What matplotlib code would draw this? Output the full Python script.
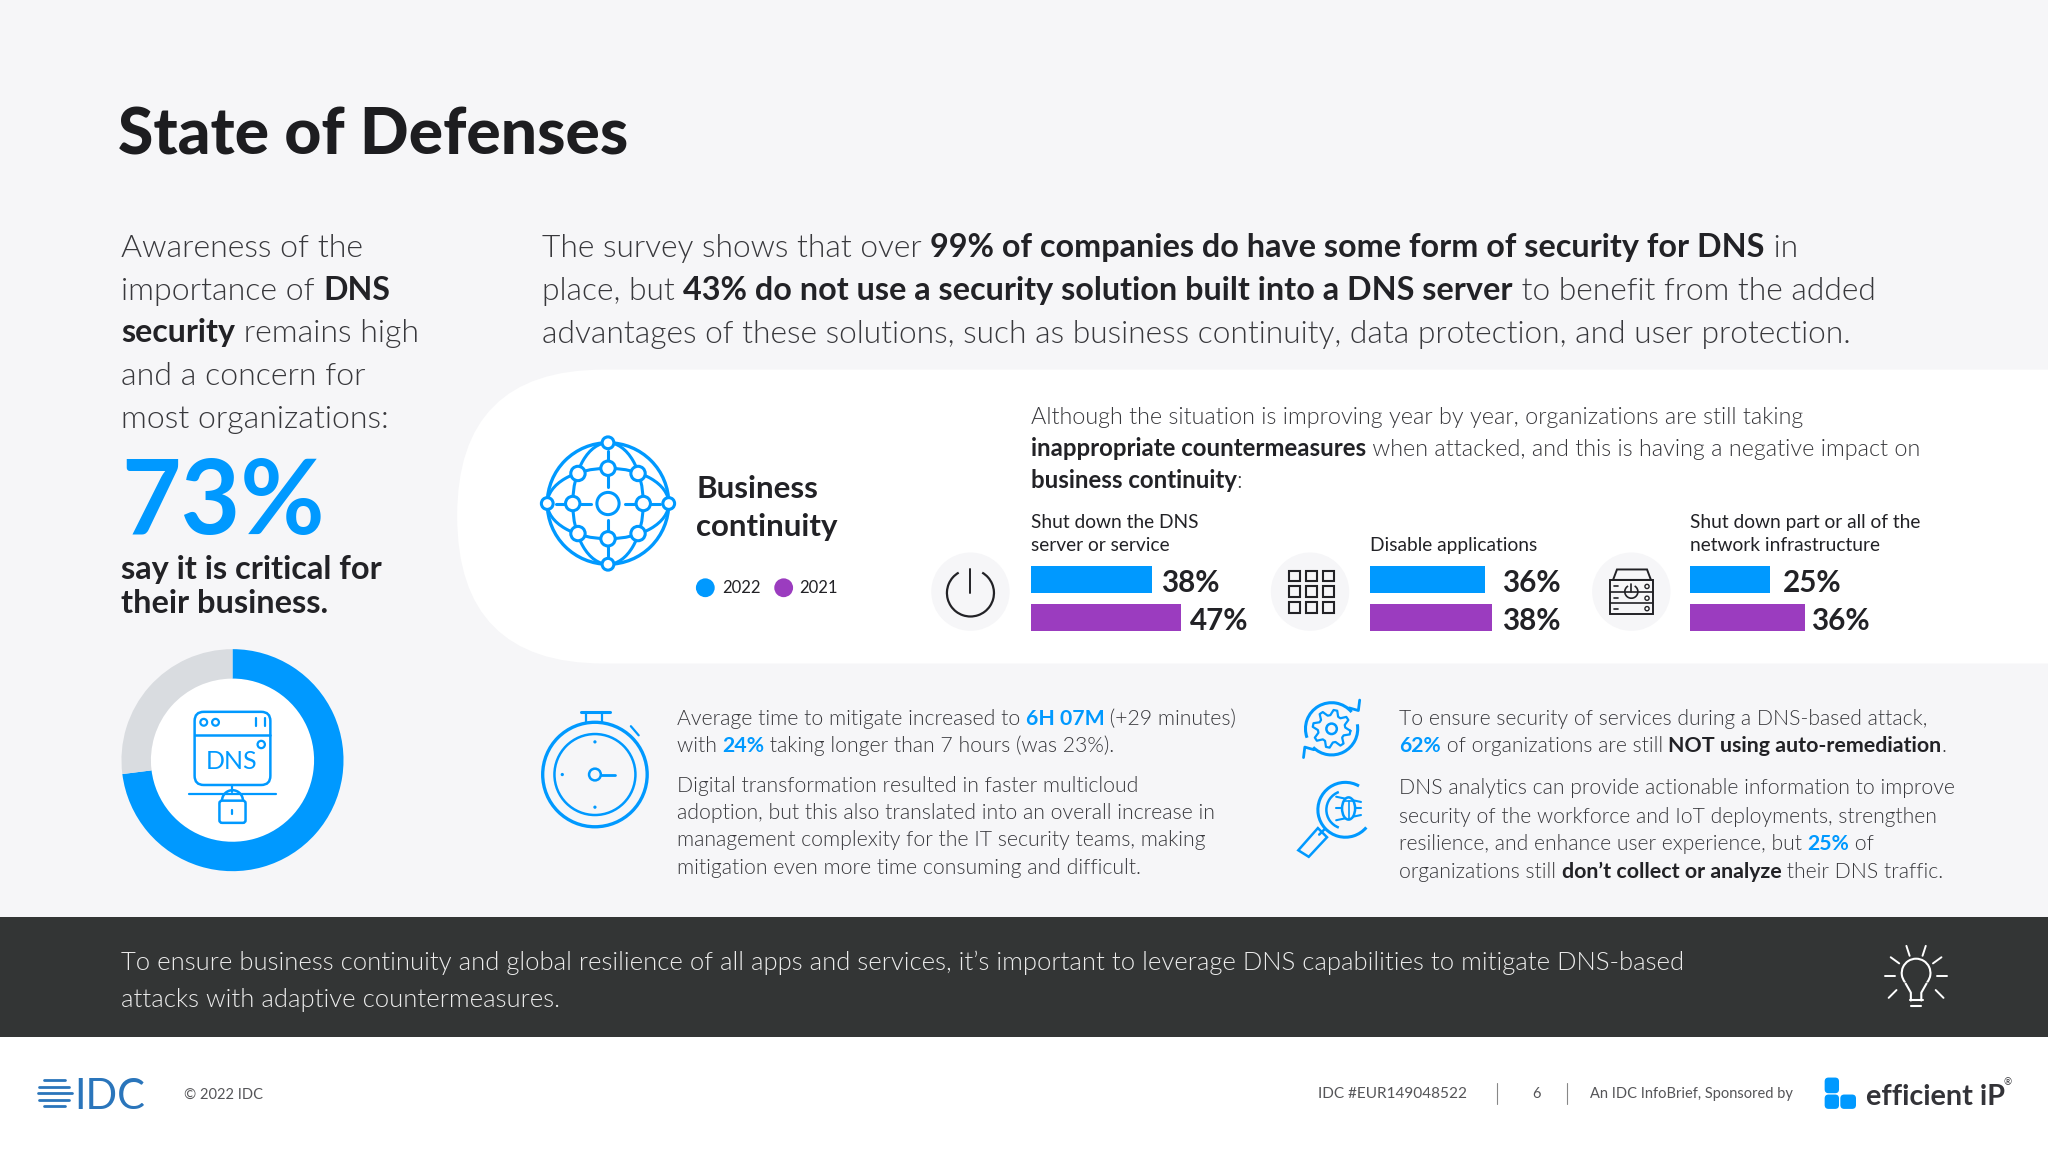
import os
import numpy as np
import matplotlib
matplotlib.use("Agg")
import matplotlib.pyplot as plt
import matplotlib.font_manager as fm
from matplotlib.patches import Circle, Rectangle, FancyBboxPatch, PathPatch, Arc, Polygon, Ellipse
from matplotlib.path import Path

# chart values
donut_share = [73, 27]
groups = ["Shut down the DNS\nserver or service", "Disable applications", "Shut down part or all of the\nnetwork infrastructure"]
values_2022 = [38, 36, 25]
values_2021 = [47, 38, 36]
years = ["2022", "2021"]

BLUE = "#0099ff"
PURPLE = "#9b3cbf"
GREY = "#d9dce0"
BG = "#f6f6f8"
DARK = "#333535"
INK = "#222226"
TEXT = "#38383c"
W, H = 1568.0, 882.0


def pick_font(filename, weight):
    # the weight matching picks odd Lato cuts, so go for the file where we can
    for f in fm.fontManager.ttflist:
        if os.path.basename(f.fname) == filename:
            return fm.FontProperties(fname=f.fname)
    return fm.FontProperties(family="Lato", weight=weight)


FONTS = {
    "light": pick_font("Lato-Light.ttf", 300),
    "normal": pick_font("Lato-Regular.ttf", 400),
    "bold": pick_font("Lato-Bold.ttf", 700),
    "heavy": pick_font("Lato-Heavy.ttf", 800),
}

fig = plt.figure(figsize=(20.48, 11.52), dpi=100, facecolor=BG)
ax = fig.add_axes([0, 0, 1, 1])
ax.set_xlim(0, W)
ax.set_ylim(H, 0)
ax.axis("off")
renderer = fig.canvas.get_renderer()


def text_width(s, size, weight):
    # measure with a guard char so trailing spaces count
    t1 = ax.text(0, 0, s + "|", fontproperties=FONTS[weight], fontsize=size)
    t2 = ax.text(0, 0, "|", fontproperties=FONTS[weight], fontsize=size)
    w = t1.get_window_extent(renderer).width - t2.get_window_extent(renderer).width
    t1.remove()
    t2.remove()
    return w * W / 2048.0


def rich(x, y, runs, size, color=TEXT, weight="light", bold_scale=1.0, zorder=5):
    # runs: plain string, or list of (string, style) with style b = bold, h = blue bold
    if isinstance(runs, str):
        runs = [(runs, "")]
    for s, style in runs:
        c, w, sz = color, weight, size
        if style == "b":
            c, w, sz = INK, "bold", size * bold_scale
        elif style == "h":
            c, w = BLUE, "bold"
        ax.text(x, y, s, fontproperties=FONTS[w], fontsize=sz, color=c, va="baseline", ha="left", zorder=zorder)
        x += text_width(s, sz, w)


def inset(x0, y0, x1, y1):
    return fig.add_axes([x0 / W, 1 - y1 / H, (x1 - x0) / W, (y1 - y0) / H])


def circ(x, y, r, lw=2.2, ec=BLUE, fc="none", z=4):
    ax.add_patch(Circle((x, y), r, ec=ec, fc=fc, lw=lw, zorder=z))


def line(xs, ys, lw=2.2, c=BLUE, z=4):
    ax.plot(xs, ys, color=c, lw=lw, solid_capstyle="round", solid_joinstyle="round", zorder=z)


def arc(x, y, r, a0, a1, lw=2.2, c=BLUE, z=4):
    # y is inverted, so angles run clockwise on screen
    ax.add_patch(Arc((x, y), 2 * r, 2 * r, theta1=a0, theta2=a1, ec=c, lw=lw, zorder=z))


# ---- background bands
r = 112
band = Path(
    [(W + 5, 283), (350 + r, 283), (350, 283), (350, 395), (350, 508), (350 + r, 508), (W + 5, 508), (W + 5, 283)],
    [Path.MOVETO, Path.LINETO, Path.CURVE3, Path.CURVE3, Path.CURVE3, Path.CURVE3, Path.LINETO, Path.CLOSEPOLY],
)
ax.add_patch(PathPatch(band, fc="white", ec="none", zorder=1))
ax.add_patch(Rectangle((0, 702), W, 92, fc=DARK, ec="none", zorder=1))
ax.add_patch(Rectangle((0, 794), W, 88, fc="white", ec="none", zorder=1))

# ---- title and intro
rich(90, 118, "State of Defenses", 46.3, color="#1d1d20", weight="heavy")

left_lines = [
    "Awareness of the",
    [("importance of ", ""), ("DNS", "b")],
    [("security", "b"), (" remains high", "")],
    "and a concern for",
    "most organizations:",
]
for i, l in enumerate(left_lines):
    rich(93, 197 + i * 32.6, l, 23.1)

rich(93, 409, "73%", 74, color=BLUE, weight="bold")
rich(93, 443, "say it is critical for", 23.4, color=INK, weight="bold")
rich(93, 469, "their business.", 23.4, color=INK, weight="bold")

top_lines = [
    [("The survey shows that over ", ""), ("99% of companies do have some form of security for DNS", "b"), (" in", "")],
    [("place, but ", ""), ("43% do not use a security solution built into a DNS server", "b"), (" to benefit from the added", "")],
    "advantages of these solutions, such as business continuity, data protection, and user protection.",
]
for i, l in enumerate(top_lines):
    rich(415, 197 + i * 32.7, l, 22.9, bold_scale=1.017)

# ---- donut
dax = inset(93, 497, 263, 667)
dax.pie(donut_share, colors=[BLUE, GREY], startangle=90, counterclock=False, radius=1.0,
        wedgeprops=dict(width=0.265, linewidth=0))
dax.set_xlim(-1, 1)
dax.set_ylim(-1, 1)
circ(178, 582, 62.5, lw=0, ec="white", fc="white", z=3)

# DNS server icon in the donut
ax.add_patch(FancyBboxPatch((149, 545), 58, 56, boxstyle="round,pad=0,rounding_size=7", ec=BLUE, fc="none", lw=1.8, zorder=4))
line([149, 207], [563, 563], 1.8)
circ(156, 553, 2.6, 1.6)
circ(165, 553, 2.6, 1.6)
line([196, 196], [550, 556], 1.6)
line([203, 203], [550, 556], 1.6)
circ(200, 570, 2.8, 1.6)
ax.text(177.5, 583, "DNS", fontproperties=FONTS["normal"], fontsize=18, color=BLUE, ha="center", va="center", zorder=4)
line([178, 178], [601, 606], 1.6)
line([145, 211], [608, 608], 1.6)
arc(178, 613, 8, 180, 360, 1.8)
ax.add_patch(FancyBboxPatch((168, 613), 20, 17, boxstyle="round,pad=0,rounding_size=2", ec=BLUE, fc="white", lw=1.8, zorder=5))
line([178, 178], [620, 623], 1.6, z=6)

# ---- business continuity block
gx, gy = 465.5, 385.5
circ(gx, gy, 46.5, 2.4)
# meridian and parallel as ellipses through the nodes
ax.add_patch(Ellipse((gx, gy), 54, 93, ec=BLUE, fc="none", lw=2.2, zorder=4))
ax.add_patch(Ellipse((gx, gy), 93, 54, ec=BLUE, fc="none", lw=2.2, zorder=4))
for dx, dy, rr in [(0, -46.5, 4.5), (0, 46.5, 4.5), (-46.5, 0, 4.5), (46.5, 0, 4.5),
                   (0, -27, 5.5), (0, 27, 5.5), (-27, 0, 5.5), (27, 0, 5.5),
                   (-23, -23, 5.5), (23, -23, 5.5), (-23, 23, 5.5), (23, 23, 5.5)]:
    circ(gx + dx, gy + dy, rr, 2.2, fc="white", z=5)
circ(gx, gy, 8.5, 2.2, fc="white", z=5)
for a, b in [(-40, -33), (-21, -13), (13, 21), (33, 40)]:
    line([gx + a, gx + b], [gy, gy], 2.2)
    line([gx, gx], [gy + a, gy + b], 2.2)

rich(533, 381, "Business", 22.5, color=INK, weight="bold")
rich(533, 410, "continuity", 22.5, color=INK, weight="bold")
for cx, tx, col, yr in zip([540, 600], [553, 612], [BLUE, PURPLE], years):
    circ(cx, 450, 7.2, 0, ec=col, fc=col)
    rich(tx, 454, yr, 12, color=INK, weight="normal")

mid_lines = [
    "Although the situation is improving year by year, organizations are still taking",
    [("inappropriate countermeasures", "b"), (" when attacked, and this is having a negative impact on", "")],
    [("business continuity", "b"), (":", "")],
]
for i, l in enumerate(mid_lines):
    rich(789, 325 + i * 24.3, l, 16.8, bold_scale=1.03)

# ---- bars, one small axes per response
bar_x = [789, 1049, 1294]
gaps_2022 = [7, 13, 10]
gaps_2021 = [7, 8, 4]
px_per_pct = 2.45
for i in range(3):
    x0 = bar_x[i]
    bax = inset(x0, 429, x0 + 60 * px_per_pct, 487)
    bax.barh([0, 1], [values_2022[i], values_2021[i]], height=0.72, color=[BLUE, PURPLE])
    bax.set_xlim(0, 60)
    bax.set_ylim(1.5, -0.5)
    bax.axis("off")
    bax.patch.set_alpha(0)
    for k, (v, g) in enumerate(zip([values_2022[i], values_2021[i]], [gaps_2022[i], gaps_2021[i]])):
        bax.text(v + g / px_per_pct, k + 0.34, "%d%%" % v, fontproperties=FONTS["bold"], fontsize=21.3, color=INK, va="baseline", ha="left")
    names = groups[i].split("\n")
    for j, s in enumerate(names[::-1]):
        rich(x0, 422 - j * 18, s, 13.8, color=INK, weight="normal")

# icon discs
for cx in [743, 1003, 1249]:
    circ(cx, 453, 30, 0, ec=BG, fc=BG, z=2)

# power icon
arc(743, 454, 18, -60, 240, 1.6, c=INK)
line([743, 743], [436, 454], 1.4, c=INK)

# application grid icon
for cx in [991, 1004, 1017]:
    for cy in [441, 453, 465]:
        ax.add_patch(Rectangle((cx - 4, cy - 4), 8, 8, ec=INK, fc="none", lw=1.5, zorder=4))

# server icon
ax.add_patch(Polygon([(1235, 444), (1238, 436), (1261, 436), (1264, 444)], closed=True, ec=INK, fc="none", lw=1.4, zorder=4))
ax.add_patch(Rectangle((1232.5, 444), 33, 26, ec=INK, fc="none", lw=1.4, zorder=4))
line([1232.5, 1265.5], [462, 462], 1.2, c=INK)
line([1232.5, 1265.5], [453, 453], 1.2, c=INK)
arc(1249, 453, 5, -60, 240, 1.2, c=INK)
line([1249, 1249], [447, 453], 1.2, c=INK)
for cy in [449, 458, 466]:
    circ(1261, cy, 1.6, 1.0, ec=INK, fc="white", z=5)
    line([1236, 1239], [cy, cy], 1.2, c=INK)

# ---- lower text blocks
low_left = [
    (555, [("Average time to mitigate increased to ", ""), ("6H 07M", "h"), (" (+29 minutes)", "")]),
    (576, [("with ", ""), ("24%", "h"), (" taking longer than 7 hours (was 23%).", "")]),
    (606, "Digital transformation resulted in faster multicloud"),
    (627, "adoption, but this also translated into an overall increase in"),
    (648, "management complexity for the IT security teams, making"),
    (669, "mitigation even more time consuming and difficult."),
]
for y, l in low_left:
    rich(518, y, l, 15.35)

low_right = [
    (555, "To ensure security of services during a DNS-based attack,"),
    (576, [("62%", "h"), (" of organizations are still ", ""), ("NOT using auto-remediation", "b"), (".", "")]),
    (608, "DNS analytics can provide actionable information to improve"),
    (630, "security of the workforce and IoT deployments, strengthen"),
    (651, [("resilience, and enhance user experience, but ", ""), ("25%", "h"), (" of", "")]),
    (672, [("organizations still ", ""), ("don\u2019t collect or analyze", "b"), (" their DNS traffic.", "")]),
]
for y, l in low_right:
    rich(1071, y, l, 15.25, bold_scale=1.01)

# stopwatch
circ(455.5, 593, 40, 2.4)
circ(455.5, 593, 31, 1.8)
circ(455.5, 593, 4.5, 1.8)
line([460, 471], [593, 593], 2.0)
line([445, 467], [545, 545], 2.2)
line([449, 449], [545, 553], 1.6)
line([461, 461], [545, 553], 1.6)
line([483, 489], [556, 563], 1.6)
for dx, dy in [(0, -25), (0, 25), (-25, 0)]:
    circ(455.5 + dx, 593 + dy, 0.6, 1.2)

# gear with circular arrows
arc(1019.5, 558, 20, 160, 320, 2.2)
arc(1019.5, 558, 20, 350, 495, 2.2)
line([1033, 1040, 1041], [542, 544, 536], 2.0)
line([998, 999, 1006], [580, 572, 574], 2.0)
tooth_a = np.radians(np.arange(0, 360, 11.25) + 6)
tooth_r = np.tile([14.5, 14.5, 10.5, 10.5], 8)
line(np.r_[1019.5 + tooth_r * np.cos(tooth_a), 1019.5 + tooth_r[0] * np.cos(tooth_a[0])],
     np.r_[558 + tooth_r * np.sin(tooth_a), 558 + tooth_r[0] * np.sin(tooth_a[0])], 1.6)
circ(1019.5, 558, 4, 1.8)

# magnifier with bug
arc(1030, 620, 21, 40, 300, 2.2)
arc(1030, 620, 14.5, 110, 250, 1.8)
line([1014, 1010], [635, 639], 1.8)
ax.add_patch(Polygon([(994, 651), (1002, 656), (1016, 641), (1009, 634)], closed=True, ec=BLUE, fc="none", lw=1.8, zorder=4))
for yy, dd in [(612, -2), (619, 0), (626, 2)]:
    line([1023, 1042], [yy + dd, yy - dd], 1.5)
ax.add_patch(Ellipse((1032.5, 619), 10, 17, ec=BLUE, fc=BG, lw=1.8, zorder=5))
line([1032.5, 1032.5], [613, 627], 1.2, z=6)
line([1029, 1036], [613, 613], 1.2, z=6)

# ---- dark banner
rich(93, 743, "To ensure business continuity and global resilience of all apps and services, it\u2019s important to leverage DNS capabilities to mitigate DNS-based", 18.44, color="#ececec")
rich(93, 771, "attacks with adaptive countermeasures.", 18.44, color="#ececec")

# bulb icon
arc(1467, 745, 11, 140, 400, 1.5, c="white", z=6)
line([1459, 1463, 1463], [753, 760, 766], 1.5, c="white", z=6)
line([1475, 1471, 1471], [753, 760, 766], 1.5, c="white", z=6)
line([1462, 1472], [766, 766], 1.5, c="white", z=6)
line([1463, 1471], [770, 770], 1.5, c="white", z=6)
for a in np.arange(-180, 1, 36):
    ca, sa = np.cos(np.radians(a)), np.sin(np.radians(a))
    line([1467 + 16 * ca, 1467 + 24 * ca], [747 + 16 * sa, 747 + 24 * sa], 1.4, c="white", z=6)
for sx in (-1, 1):
    line([1467 + sx * 15, 1467 + sx * 21], [758, 764], 1.4, c="white", z=6)

# ---- footer
rich(57, 849, "IDC", 30, color="#2a75bb", weight="normal")
for yy, x0, x1 in [(827, 34, 50), (832, 30, 53), (837, 29, 55), (842, 30, 53), (847, 34, 50)]:
    line([x0, x1], [yy, yy], 2.0, c="#2a75bb")
rich(141, 841, "\u00a9 2022 IDC", 10.5, color="#555558", weight="normal")
rich(1009, 841, "IDC #EUR149048522", 11.1, color="#555558", weight="normal")
rich(1173, 841, "6", 10.5, color="#555558", weight="normal")
rich(1217, 841, "An IDC InfoBrief, Sponsored by", 10.5, color="#555558", weight="normal")
for xx in [1146, 1200]:
    line([xx, xx], [829, 845], 0.8, c="#888888")
ax.add_patch(FancyBboxPatch((1397, 825), 11, 12, boxstyle="round,pad=0,rounding_size=3", ec="none", fc=BLUE, zorder=4))
ax.add_patch(FancyBboxPatch((1397, 838), 11, 11, boxstyle="round,pad=0,rounding_size=3", ec="none", fc=BLUE, zorder=4))
ax.add_patch(FancyBboxPatch((1409, 838), 12, 11, boxstyle="round,pad=0,rounding_size=3", ec="none", fc=BLUE, zorder=4))
rich(1429, 846, "efficient iP", 20.7, color="#333338", weight="bold")
rich(1534, 831, "\u00ae", 7, color="#333338", weight="normal")

fig.savefig("out.png", dpi=100, facecolor=BG)
